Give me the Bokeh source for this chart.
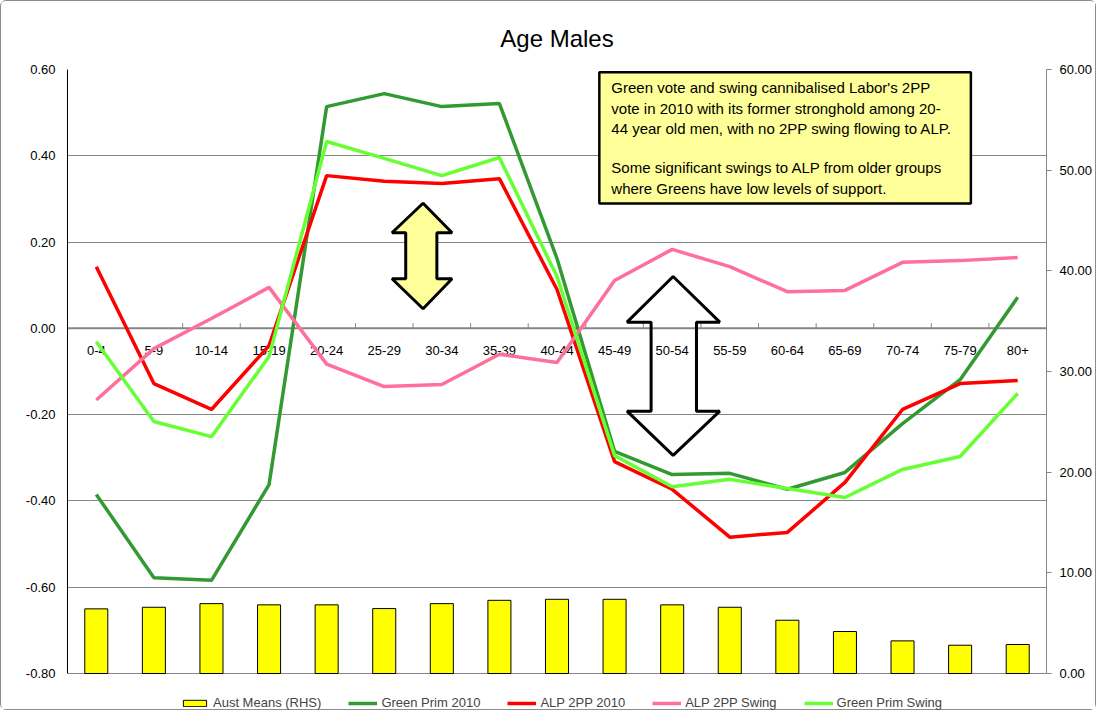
from bokeh.plotting import figure
from bokeh.models import (Range1d, LinearAxis, FixedTicker, NumeralTickFormatter, Legend,
                          LegendItem, BoxAnnotation, Label, PolyAnnotation, Span)
from bokeh.embed import file_html
from bokeh.resources import INLINE
from bokeh.core.properties import value

# ---------------- data ----------------
categories = ["0-4", "5-9", "10-14", "15-19", "20-24", "25-29", "30-34", "35-39", "40-44",
              "45-49", "50-54", "55-59", "60-64", "65-69", "70-74", "75-79", "80+"]
aust_means = [6.42, 6.58, 6.94, 6.82, 6.82, 6.45, 6.94, 7.27, 7.37,
              7.37, 6.82, 6.58, 5.29, 4.17, 3.24, 2.81, 2.88]
green_prim_2010 = [-0.385, -0.578, -0.584, -0.362, 0.514, 0.544, 0.514, 0.521, 0.162,
                   -0.285, -0.339, -0.336, -0.373, -0.334, -0.221, -0.119, 0.072]
alp_2pp_2010 = [0.143, -0.128, -0.188, -0.040, 0.354, 0.341, 0.336, 0.347, 0.090,
                -0.309, -0.373, -0.484, -0.473, -0.357, -0.188, -0.128, -0.121]
alp_2pp_swing = [-0.166, -0.047, 0.023, 0.095, -0.083, -0.135, -0.130, -0.060, -0.079,
                 0.111, 0.183, 0.143, 0.085, 0.088, 0.153, 0.157, 0.164]
green_prim_swing = [-0.031, -0.216, -0.251, -0.065, 0.433, 0.394, 0.354, 0.396, 0.120,
                    -0.295, -0.367, -0.350, -0.371, -0.392, -0.327, -0.297, -0.151]
left_ticks = [-0.8, -0.6, -0.4, -0.2, 0.0, 0.2, 0.4, 0.6]
right_ticks = [0, 10, 20, 30, 40, 50, 60]
box_lines = ["Green vote and swing cannibalised Labor's 2PP",
             "vote in 2010  with its former stronghold among 20-",
             "44 year old men, with no 2PP swing flowing to ALP.",
             "Some significant swings to ALP from older groups",
             "where Greens have low levels of support."]

FONT = "Liberation Sans"
GRID = "#868686"

n = len(categories)
xs = [i + 0.5 for i in range(n)]
bounds = list(range(n + 1))

# frame extends below the -0.80 line to leave room for the legend inside it
PLOT_PX = 604.0      # pixel height between top and bottom gridlines
EXTRA_PX = 38.0      # room below for the legend
lo, hi = left_ticks[0], left_ticks[-1]
rlo, rhi = right_ticks[0], right_ticks[-1]
y_lo = lo - (hi - lo) * EXTRA_PX / PLOT_PX
ry_lo = rlo - (rhi - rlo) * EXTRA_PX / PLOT_PX

p = figure(width=1096, height=710, output_backend="svg", toolbar_location=None,
           x_range=Range1d(0, n), y_range=Range1d(y_lo, hi),
           min_border_left=66, min_border_right=51, min_border_top=68, min_border_bottom=0,
           x_axis_location=None, y_axis_location=None)
p.extra_y_ranges = {"rhs": Range1d(ry_lo, rhi)}
p.outline_line_color = None
p.background_fill_color = "white"
p.border_fill_color = "white"
p.styles = {"border": "1px solid #8c8c8c", "border-radius": "6px"}

p.title.text = "Age Males"
p.title.align = "center"
p.title.text_font = FONT
p.title.text_font_size = "24px"
p.title.text_font_style = "normal"
p.title.text_color = "black"
p.title.standoff = 36

# grid
p.xgrid.visible = False
p.ygrid.ticker = FixedTicker(ticks=left_ticks)
p.ygrid.grid_line_color = GRID
p.ygrid.grid_line_width = 1

# left axis
yl = LinearAxis(ticker=FixedTicker(ticks=left_ticks), formatter=NumeralTickFormatter(format="0.00"),
                bounds=(lo, hi))
yl.axis_line_color = "black"
yl.axis_line_width = 1
yl.major_tick_out = 0
yl.major_tick_in = 0
yl.minor_tick_out = 0
yl.minor_tick_in = 0
yl.major_label_standoff = 12
yl.major_label_text_font = FONT
yl.major_label_text_font_size = "13px"
yl.major_label_text_color = "black"
p.add_layout(yl, "left")

# right axis
yr = LinearAxis(y_range_name="rhs", ticker=FixedTicker(ticks=right_ticks),
                formatter=NumeralTickFormatter(format="0.00"), bounds=(rlo, rhi))
yr.axis_line_color = GRID
yr.major_tick_line_color = GRID
yr.major_tick_out = 5
yr.major_tick_in = 0
yr.minor_tick_out = 0
yr.minor_tick_in = 0
yr.major_label_standoff = 8
yr.major_label_text_font = FONT
yr.major_label_text_font_size = "13px"
yr.major_label_text_color = "black"
p.add_layout(yr, "right")

# category axis line at y = 0 with boundary ticks and labels
p.add_layout(Span(location=0, dimension="width", line_color=GRID, line_width=2, level="underlay"))
p.segment(x0=bounds, y0=[0] * len(bounds), x1=bounds, y1=[0.012] * len(bounds),
          line_color=GRID, line_width=1)
p.text(x=xs, y=[-0.051] * n, text=categories, text_font=value(FONT), text_font_size="13px",
       text_align="center", text_baseline="middle", text_color="black")

# bars (RHS)
bars = p.vbar(x=xs, top=aust_means, width=0.4, bottom=0, y_range_name="rhs",
              fill_color="#FFFF00", line_color="black", line_width=1)

# lines (LHS)
l1 = p.line(xs, green_prim_2010, line_color="#339933", line_width=3.5)
l2 = p.line(xs, alp_2pp_2010, line_color="#FF0000", line_width=3.5)
l3 = p.line(xs, alp_2pp_swing, line_color="#FF6F9C", line_width=3.5)
l4 = p.line(xs, green_prim_swing, line_color="#66FF33", line_width=3.5)

# annotation box
p.add_layout(BoxAnnotation(left=9.235, right=15.687, top=0.5934, bottom=0.2895,
                           fill_color="#FFFF99", fill_alpha=1, line_color="black",
                           line_width=2.5, line_alpha=1))
for txt, yy in zip(box_lines, [0.559, 0.509, 0.4627, 0.3723, 0.3236]):
    p.add_layout(Label(x=9.443, y=yy, text=txt, text_font=FONT, text_font_size="15px",
                       text_baseline="middle", text_align="left", text_color="black"))

# double arrows
p.add_layout(PolyAnnotation(
    xs=[6.174, 6.678, 6.414, 6.414, 6.678, 6.174, 5.635, 5.873, 5.873, 5.635],
    ys=[0.290, 0.2216, 0.2216, 0.115, 0.115, 0.0454, 0.115, 0.115, 0.2216, 0.2216],
    fill_color="#FFFF99", fill_alpha=1, line_color="black", line_width=3, line_alpha=1))
p.add_layout(PolyAnnotation(
    xs=[10.516, 11.327, 10.922, 10.922, 11.327, 10.516, 9.716, 10.134, 10.134, 9.716],
    ys=[0.1203, 0.0144, 0.0144, -0.192, -0.192, -0.2946, -0.192, -0.192, 0.0144, 0.0144],
    fill_alpha=0, line_color="black", line_width=3, line_alpha=1))

legend = Legend(items=[LegendItem(label="Aust Means (RHS)", renderers=[bars]),
                       LegendItem(label="Green Prim 2010", renderers=[l1]),
                       LegendItem(label="ALP 2PP 2010", renderers=[l2]),
                       LegendItem(label="ALP 2PP Swing", renderers=[l3]),
                       LegendItem(label="Green Prim Swing", renderers=[l4])],
                orientation="horizontal", location=(113, 1),
                border_line_color=None, background_fill_alpha=0,
                label_text_font=FONT, label_text_font_size="13px",
                glyph_width=29, glyph_height=8, label_height=14, spacing=27,
                label_standoff=4, padding=0, margin=0)
p.add_layout(legend)

open("out.html", "w").write(file_html(p, INLINE))
